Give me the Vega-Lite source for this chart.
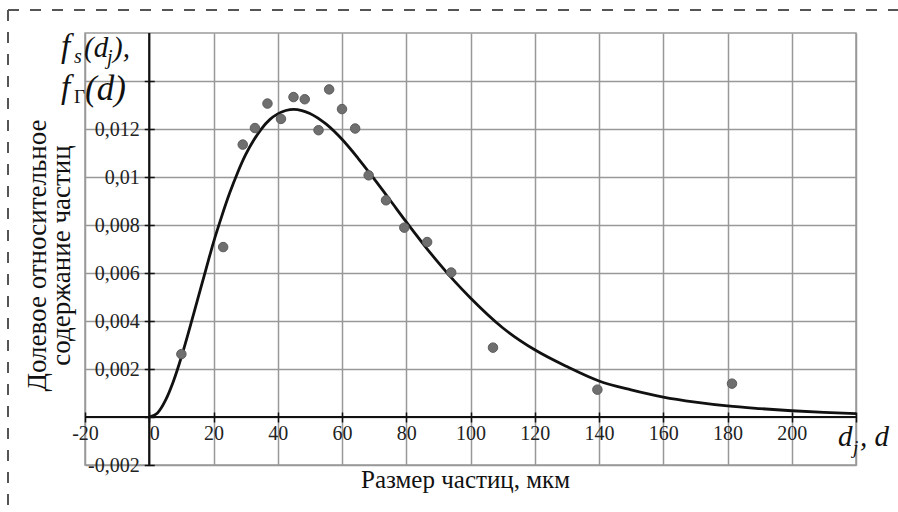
{
  "$schema": "https://vega.github.io/schema/vega-lite/v6.json",
  "width": 771,
  "height": 432,
  "autosize": {"type": "none"},
  "padding": {"left": 85, "top": 33, "right": 42, "bottom": 47},
  "background": "white",
  "config": {
    "view": {"stroke": "#9a9a9a", "strokeWidth": 1.5},
    "text": {"font": "Liberation Serif", "color": "#111111"}
  },
  "data": {"values": [{}]},
  "datasets": {
    "curve": [
      {"d": 0, "f": 0},
      {"d": 2.5, "f": 0.00016},
      {"d": 5, "f": 0.00068},
      {"d": 7.5, "f": 0.00148},
      {"d": 10, "f": 0.0025},
      {"d": 12.5, "f": 0.00366},
      {"d": 15, "f": 0.00487},
      {"d": 17.5, "f": 0.00608},
      {"d": 20, "f": 0.00728},
      {"d": 22.5, "f": 0.00834},
      {"d": 25, "f": 0.00932},
      {"d": 27.5, "f": 0.01018},
      {"d": 30, "f": 0.01093},
      {"d": 32.5, "f": 0.01153},
      {"d": 35, "f": 0.01202},
      {"d": 37.5, "f": 0.01239},
      {"d": 40, "f": 0.01263},
      {"d": 42.5, "f": 0.01277},
      {"d": 45, "f": 0.01282},
      {"d": 47.5, "f": 0.01277},
      {"d": 50, "f": 0.01265},
      {"d": 55, "f": 0.01221},
      {"d": 60, "f": 0.01157},
      {"d": 65, "f": 0.01078},
      {"d": 70, "f": 0.00992},
      {"d": 75, "f": 0.00903},
      {"d": 80, "f": 0.00813},
      {"d": 85, "f": 0.00726},
      {"d": 90, "f": 0.00643},
      {"d": 95, "f": 0.00566},
      {"d": 100, "f": 0.00496},
      {"d": 110, "f": 0.00372},
      {"d": 120, "f": 0.0028},
      {"d": 130, "f": 0.0021},
      {"d": 140, "f": 0.0015},
      {"d": 150, "f": 0.00113},
      {"d": 160, "f": 0.00083},
      {"d": 170, "f": 0.00062},
      {"d": 180, "f": 0.00046},
      {"d": 190, "f": 0.00035},
      {"d": 200, "f": 0.00026},
      {"d": 210, "f": 0.00019},
      {"d": 220, "f": 0.00014}
    ],
    "samples": [
      {"d": 10.0, "f": 0.00262},
      {"d": 23.0, "f": 0.00708},
      {"d": 29.1, "f": 0.01135},
      {"d": 32.9, "f": 0.01204},
      {"d": 36.8, "f": 0.01306},
      {"d": 41.0, "f": 0.01242},
      {"d": 44.9, "f": 0.01333},
      {"d": 48.4, "f": 0.01324},
      {"d": 52.7, "f": 0.01195},
      {"d": 56.0, "f": 0.01365},
      {"d": 60.0, "f": 0.01283},
      {"d": 64.1, "f": 0.01202},
      {"d": 68.3, "f": 0.01007},
      {"d": 73.7, "f": 0.00903},
      {"d": 79.4, "f": 0.00789},
      {"d": 86.5, "f": 0.00729},
      {"d": 94.0, "f": 0.00602},
      {"d": 107.0, "f": 0.00289},
      {"d": 139.5, "f": 0.00114},
      {"d": 181.4, "f": 0.00139}
    ]
  },
  "layer": [
    {
      "mark": {"type": "rule", "stroke": "#555555", "strokeWidth": 2, "strokeDash": [11, 11], "clip": false},
      "encoding": {"x": {"datum": -43.97}, "x2": {"datum": 233.07}, "y": {"datum": 0.01696}}
    },
    {
      "mark": {"type": "rule", "stroke": "#555555", "strokeWidth": 2, "strokeDash": [11, 11], "clip": false},
      "encoding": {"x": {"datum": -43.97}, "y": {"datum": 0.01696}, "y2": {"datum": -0.00396}}
    },
    {
      "mark": {"type": "rule", "stroke": "#111111", "strokeWidth": 2.2},
      "encoding": {"y": {"datum": 0}}
    },
    {
      "mark": {"type": "rule", "stroke": "#111111", "strokeWidth": 2.2},
      "encoding": {"x": {"datum": 0}}
    },
    {
      "data": {"name": "curve"},
      "mark": {"type": "line", "stroke": "#111111", "strokeWidth": 2.8, "interpolate": "monotone"},
      "encoding": {
        "x": {
          "field": "d",
          "type": "quantitative",
          "scale": {"domain": [-20, 220], "nice": false, "zero": false},
          "axis": {
            "orient": "bottom",
            "offset": -53,
            "values": [-20, 0, 20, 40, 60, 80, 100, 120, 140, 160, 180, 200, 220],
            "labelExpr": "datum.value > 210 ? '' : replace(format(datum.value, 'd'), '\u2212', '-')",
            "labelAlign": {"condition": {"test": "datum.value == 0", "value": "left"}, "value": "center"},
            "domain": false,
            "ticks": true,
            "tickSize": 10,
            "tickColor": "#111111",
            "tickWidth": 1.5,
            "grid": true,
            "gridColor": "#999999",
            "gridWidth": 1.5,
            "gridOpacity": 1,
            "labelFont": "Liberation Sans Narrow",
            "labelFontSize": 20,
            "labelColor": "#222222",
            "labelPadding": 1,
            "labelOverlap": false,
            "labelFlush": false,
            "title": "Размер частиц, мкм",
            "titleFont": "Liberation Serif",
            "titleFontSize": 25,
            "titleFontWeight": "normal",
            "titleColor": "#111111",
            "titleX": 380,
            "titleY": 75,
            "titleBaseline": "alphabetic",
            "titleAlign": "center"
          }
        },
        "y": {
          "field": "f",
          "type": "quantitative",
          "scale": {"domain": [-0.002, 0.016], "nice": false, "zero": false},
          "axis": {
            "orient": "left",
            "offset": -69.25,
            "values": [-0.002, 0, 0.002, 0.004, 0.006, 0.008, 0.01, 0.012, 0.014],
            "labelExpr": "datum.value == 0 || datum.value > 0.013 ? '' : replace(replace(format(datum.value, '.3~f'), '.', ','), '\u2212', '-')",
            "domain": false,
            "ticks": true,
            "tickSize": 10,
            "tickColor": "#111111",
            "tickWidth": 1.5,
            "grid": true,
            "gridColor": "#999999",
            "gridWidth": 1.5,
            "gridOpacity": 1,
            "labelFont": "Liberation Sans Narrow",
            "labelFontSize": 20,
            "labelColor": "#222222",
            "labelPadding": 5,
            "labelOverlap": false,
            "labelFlush": false,
            "title": ["Долевое относительное", "содержание частиц"],
            "titleFont": "Liberation Serif",
            "titleFontSize": 27,
            "titleFontWeight": "normal",
            "titleColor": "#111111",
            "titleAngle": -90,
            "titleX": -130,
            "titleY": 222,
            "titleAlign": "center",
            "titleBaseline": "top",
            "titleLineHeight": 24
          }
        }
      }
    },
    {
      "data": {"name": "samples"},
      "mark": {"type": "point", "filled": true, "fill": "#6f6f6f", "stroke": "#5c5c5c", "strokeWidth": 1, "opacity": 1, "size": 90},
      "encoding": {
        "x": {"field": "d", "type": "quantitative"},
        "y": {"field": "f", "type": "quantitative"}
      }
    },
    {
      "mark": {"type": "text", "text": "f", "fontStyle": "italic", "fontSize": 33, "align": "left", "baseline": "alphabetic", "dx": -24},
      "encoding": {"x": {"datum": -20}, "y": {"datum": 0.015}}
    },
    {
      "mark": {"type": "text", "text": "s", "fontStyle": "italic", "fontSize": 20, "align": "left", "baseline": "alphabetic", "dx": -11, "dy": 6},
      "encoding": {"x": {"datum": -20}, "y": {"datum": 0.015}}
    },
    {
      "mark": {"type": "text", "text": "(d", "fontStyle": "italic", "fontSize": 29, "align": "left", "baseline": "alphabetic", "dx": -1},
      "encoding": {"x": {"datum": -20}, "y": {"datum": 0.015}}
    },
    {
      "mark": {"type": "text", "text": "j", "fontStyle": "italic", "fontSize": 20, "align": "left", "baseline": "alphabetic", "dx": 22, "dy": 7},
      "encoding": {"x": {"datum": -20}, "y": {"datum": 0.015}}
    },
    {
      "mark": {"type": "text", "text": "),", "fontStyle": "italic", "fontSize": 29, "align": "left", "baseline": "alphabetic", "dx": 28},
      "encoding": {"x": {"datum": -20}, "y": {"datum": 0.015}}
    },
    {
      "mark": {"type": "text", "text": "f", "fontStyle": "italic", "fontSize": 33, "align": "left", "baseline": "alphabetic", "dx": -24},
      "encoding": {"x": {"datum": -20}, "y": {"datum": 0.0133}}
    },
    {
      "mark": {"type": "text", "text": "Γ", "fontSize": 19, "align": "left", "baseline": "alphabetic", "dx": -11, "dy": 5},
      "encoding": {"x": {"datum": -20}, "y": {"datum": 0.0133}}
    },
    {
      "mark": {"type": "text", "text": "(d)", "fontStyle": "italic", "fontSize": 35, "align": "left", "baseline": "alphabetic", "dx": 0, "dy": 2},
      "encoding": {"x": {"datum": -20}, "y": {"datum": 0.0133}}
    },
    {
      "mark": {"type": "text", "text": "d", "fontStyle": "italic", "fontSize": 29, "align": "left", "baseline": "alphabetic", "dx": -18, "dy": 29},
      "encoding": {"x": {"datum": 220}, "y": {"datum": 0}}
    },
    {
      "mark": {"type": "text", "text": "j", "fontStyle": "italic", "fontSize": 19, "align": "left", "baseline": "alphabetic", "dx": -3, "dy": 37},
      "encoding": {"x": {"datum": 220}, "y": {"datum": 0}}
    },
    {
      "mark": {"type": "text", "text": ", d", "fontStyle": "italic", "fontSize": 29, "align": "left", "baseline": "alphabetic", "dx": 4, "dy": 29},
      "encoding": {"x": {"datum": 220}, "y": {"datum": 0}}
    }
  ]
}
